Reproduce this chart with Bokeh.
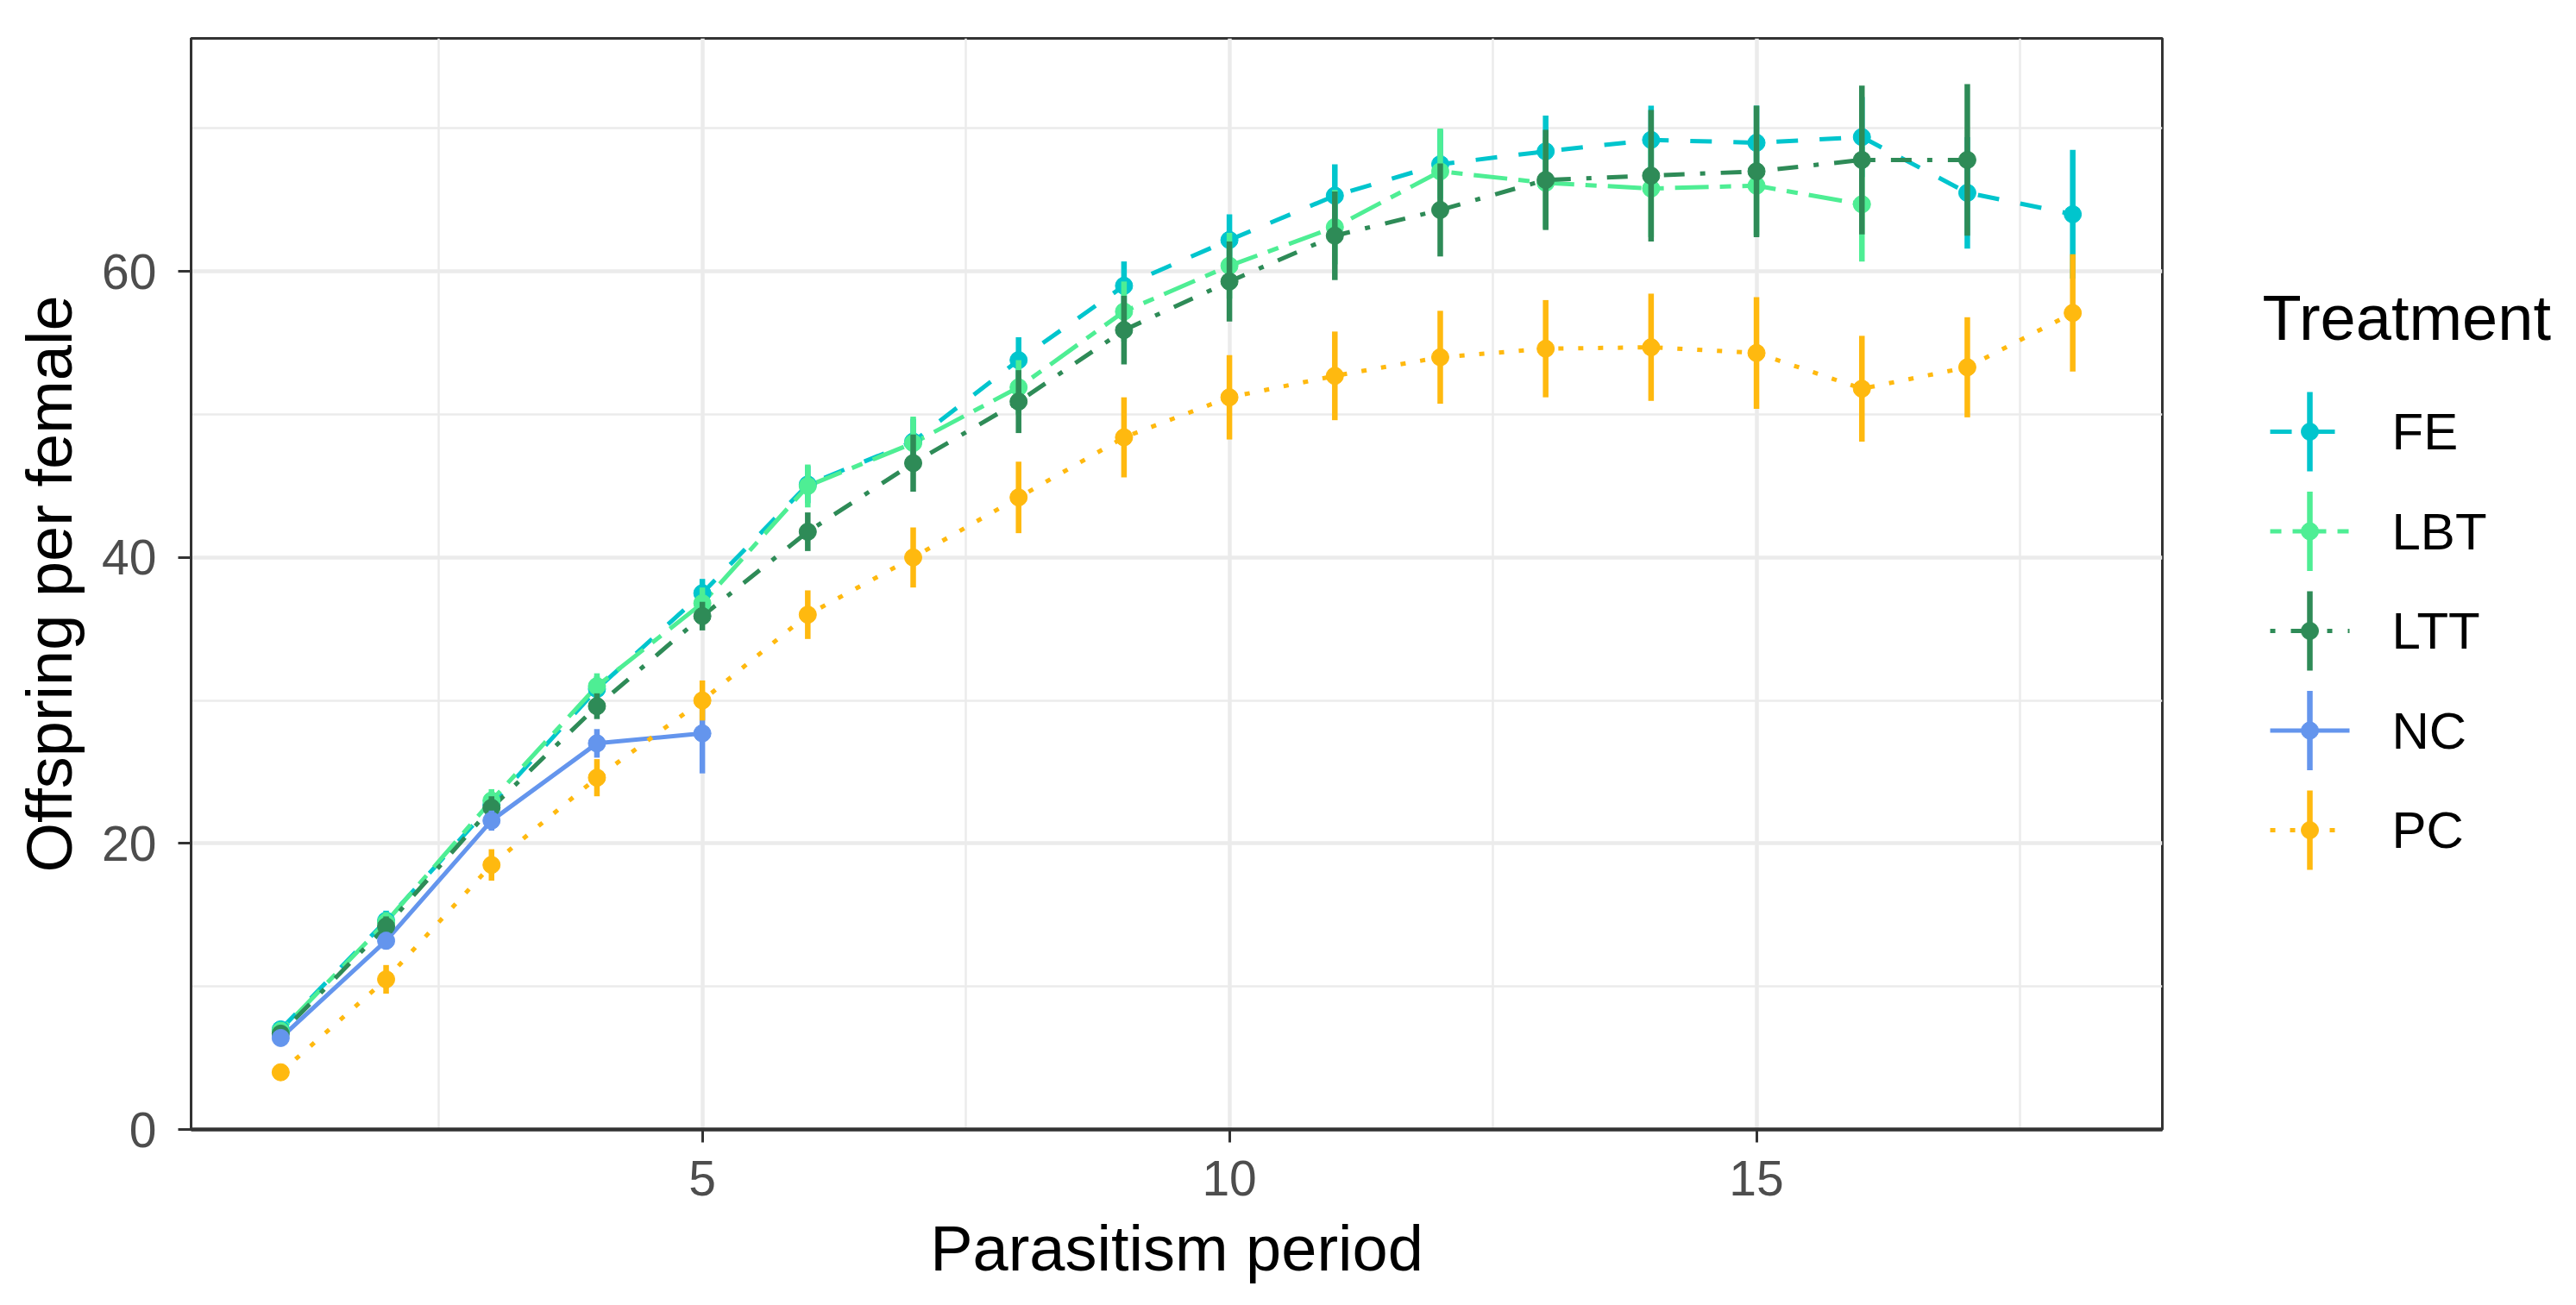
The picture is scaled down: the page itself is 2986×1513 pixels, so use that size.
from bokeh.plotting import figure
from bokeh.models import Range1d, FixedTicker
from bokeh.layouts import row
from bokeh.core.properties import value
from bokeh.embed import file_html
from bokeh.resources import INLINE

# ---------------- data ----------------
treatments = ["FE", "LBT", "LTT", "NC", "PC"]
colors = ["#00C5CD", "#4EEE94", "#2E8B57", "#6495ED", "#FFB90F"]
dashes = ["25 25", "13 13 39 13", "6 18 24 18", "solid", "6 17"]

fe_x = list(range(1, 19))
fe_mean = [7.0, 14.6, 22.7, 30.8, 37.5, 45.1, 48.1, 53.8, 59.0, 62.2, 65.3, 67.5, 68.4, 69.2, 69.0, 69.4, 65.5, 64.0]
fe_se = [0.5, 0.7, 0.8, 0.9, 1.0, 1.3, 1.6, 1.6, 1.7, 1.8, 2.2, 2.4, 2.5, 2.4, 2.6, 2.8, 3.9, 4.5]

lbt_x = list(range(1, 17))
lbt_mean = [6.9, 14.5, 23.0, 31.0, 36.8, 45.0, 48.0, 51.9, 57.2, 60.4, 63.1, 67.0, 66.2, 65.8, 66.0, 64.7]
lbt_se = [0.5, 0.7, 0.8, 0.9, 1.1, 1.5, 1.85, 1.9, 2.1, 2.3, 2.6, 3.0, 3.2, 3.4, 3.5, 4.0]

ltt_x = list(range(1, 18))
ltt_mean = [6.7, 14.2, 22.5, 29.6, 35.9, 41.8, 46.6, 50.9, 55.9, 59.3, 62.5, 64.3, 66.4, 66.7, 67.0, 67.8, 67.8]
ltt_se = [0.5, 0.7, 0.8, 0.9, 1.0, 1.35, 2.0, 2.2, 2.4, 2.8, 3.1, 3.25, 3.5, 4.6, 4.6, 5.2, 5.3]

nc_x = list(range(1, 6))
nc_mean = [6.4, 13.2, 21.6, 27.0, 27.7]
nc_se = [0.5, 0.6, 0.7, 1.0, 2.8]

pc_x = list(range(1, 19))
pc_mean = [4.0, 10.5, 18.5, 24.6, 30.0, 36.0, 40.0, 44.2, 48.4, 51.2, 52.7, 54.0, 54.6, 54.7, 54.3, 51.8, 53.3, 57.1]
pc_se = [0.4, 1.0, 1.1, 1.3, 1.4, 1.7, 2.1, 2.5, 2.8, 2.95, 3.1, 3.25, 3.4, 3.75, 3.9, 3.7, 3.5, 4.1]

x_ticks = [5, 10, 15]
x_minor = [2.5, 7.5, 12.5, 17.5]
y_ticks = [0, 20, 40, 60]
y_minor = [10, 30, 50, 70]

series = [
    (fe_x, fe_mean, fe_se),
    (lbt_x, lbt_mean, lbt_se),
    (ltt_x, ltt_mean, ltt_se),
    (nc_x, nc_mean, nc_se),
    (pc_x, pc_mean, pc_se),
]

FONT = "Liberation Sans"
LINE_W = 5
BAR_W = 6.5
PT = 20

# ---------------- main plot ----------------
FRAME_H = 1265
p = figure(width=2540, height=1497,
           x_range=Range1d(0.15, 18.85), y_range=Range1d(0, 76.3),
           output_backend="svg", toolbar_location=None,
           min_border_left=221, min_border_right=34,
           min_border_top=44, min_border_bottom=1497 - 44 - FRAME_H)
p.background_fill_color = "white"
p.border_fill_color = "white"
p.outline_line_color = "#333333"
p.outline_line_width = 3

p.xaxis.ticker = FixedTicker(ticks=x_ticks, minor_ticks=x_minor)
p.yaxis.ticker = FixedTicker(ticks=y_ticks, minor_ticks=y_minor)

for g in (p.xgrid, p.ygrid):
    g.grid_line_color = "#EBEBEB"
    g.grid_line_width = 4.5
    g.minor_grid_line_color = "#EBEBEB"
    g.minor_grid_line_width = 2.5

for ax in (p.xaxis, p.yaxis):
    ax.axis_line_color = "#333333"
    ax.major_tick_line_color = "#333333"
    ax.major_tick_line_width = 3
    ax.major_tick_out = 15
    ax.major_tick_in = 0
    ax.minor_tick_line_color = None
    ax.major_label_text_font = FONT
    ax.major_label_text_font_size = "57px"
    ax.major_label_text_color = "#4D4D4D"
    ax.axis_label_text_font = FONT
    ax.axis_label_text_font_size = "74px"
    ax.axis_label_text_font_style = "normal"
    ax.axis_label_text_color = "black"

p.xaxis.axis_line_width = 4.5
p.yaxis.axis_line_width = 3
p.xaxis.axis_label = "Parasitism period"
p.yaxis.axis_label = "Offspring per female"
p.xaxis.major_label_standoff = 21
p.xaxis.axis_label_standoff = 17
p.yaxis.major_label_standoff = 25
p.yaxis.axis_label_standoff = 16

# lines first
for (xs, ms, ses), c, d in zip(series, colors, dashes):
    p.line(xs, ms, line_color=c, line_width=LINE_W, line_dash=d)

# point ranges
for (xs, ms, ses), c in zip(series, colors):
    lo = [m - s for m, s in zip(ms, ses)]
    hi = [m + s for m, s in zip(ms, ses)]
    p.segment(x0=xs, y0=lo, x1=xs, y1=hi, line_color=c, line_width=BAR_W)
    p.scatter(xs, ms, marker="circle", size=PT, fill_color=c, line_color=c, line_width=1)

# ---------------- legend panel ----------------
# (the row aligns this panel's frame with the main frame, so its y axis is
#  measured in pixels from the main frame's top edge)
lw_ = 430
lf = figure(width=lw_, height=1497, x_range=Range1d(0, lw_), y_range=Range1d(FRAME_H, 0),
            output_backend="svg", toolbar_location=None, min_border=0,
            x_axis_type=None, y_axis_type=None)
lf.outline_line_color = None
lf.background_fill_color = "white"
lf.border_fill_color = "white"
lf.xgrid.visible = False
lf.ygrid.visible = False

key_x = 137
half = 46
row0 = 456
step = 115.5
lf.text(x=[82], y=[324], text=["Treatment"], text_font=value(FONT),
        text_font_size="74px", text_baseline="middle", text_align="left", text_color="black")
for i, (name, c, d) in enumerate(zip(treatments, colors, dashes)):
    yc = row0 + i * step
    lf.line([key_x - half, key_x + half], [yc, yc], line_color=c, line_width=LINE_W, line_dash=d)
    lf.segment(x0=[key_x], y0=[yc - half], x1=[key_x], y1=[yc + half], line_color=c, line_width=BAR_W)
    lf.scatter([key_x], [yc], marker="circle", size=PT, fill_color=c, line_color=c)
    lf.text(x=[232], y=[yc], text=[name], text_font=value(FONT), text_font_size="60px",
            text_baseline="middle", text_align="left", text_color="black")

layout = row(p, lf)
open("out.html", "w").write(file_html(layout, INLINE))
